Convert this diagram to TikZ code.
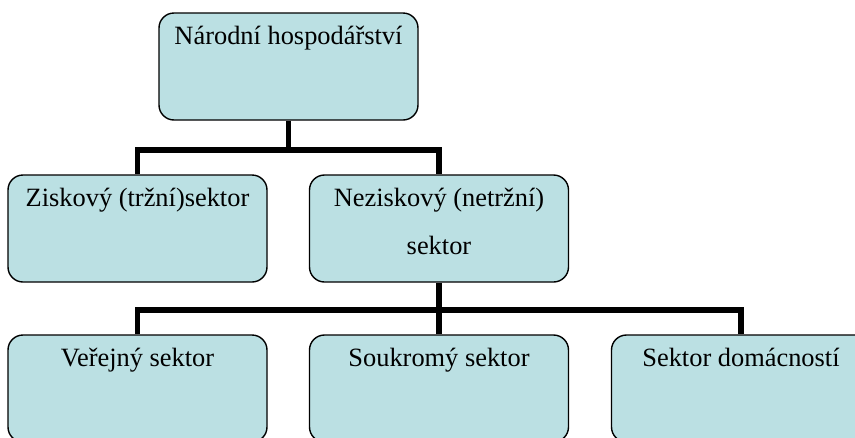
\documentclass[tikz,border=0pt]{standalone}
\usepackage{fontspec}
\setmainfont{Liberation Serif}
\usetikzlibrary{backgrounds,positioning}

\definecolor{boxfill}{RGB}{187,224,227}

\tikzset{
  sectorbox/.style={draw=black, line width=1.4pt, fill=boxfill, rounded corners=15pt,
    minimum width=259pt, minimum height=107pt, inner sep=0pt},
  boxtext/.style={anchor=base, inner sep=0pt, align=center,
    font=\fontsize{26.4}{48}\selectfont},
  conn/.style={draw=black, line width=5.5pt}
}

\begin{document}
\begin{tikzpicture}[x=1pt,y=-1pt]
  \useasboundingbox (0,0) rectangle (855,437);
  \clip (0,0) rectangle (855,437);
  % boxes
  \node[sectorbox] (narodni) at (288.5,66.5) {};
  \node[sectorbox] (zisk)    at (137.5,228.5) {};
  \node[sectorbox] (nezisk)  at (439,228.5)   {};
  \node[sectorbox] (verejny) at (137.5,388.5) {};
  \node[sectorbox] (soukrom) at (439,388.5)   {};
  \node[sectorbox] (domac)   at (741,388.5)   {};
  % texts (base = last line)
  \node[boxtext] (tnarodni) at ([yshift=-32pt]narodni.north) {Národní hospodářství};
  \node[boxtext] (tzisk)    at ([yshift=-32pt]zisk.north) {Ziskový (tržní)sektor};
  \node[boxtext] (tnezisk)  at ([yshift=-80pt]nezisk.north) {Neziskový (netržní)\\sektor};
  \node[boxtext] (tverejny) at ([yshift=-32pt]verejny.north) {Veřejný sektor};
  \node[boxtext] (tsoukrom) at ([yshift=-32pt]soukrom.north) {Soukromý sektor};
  \node[boxtext] (tdomac)   at ([yshift=-32pt]domac.north) {Sektor domácností};
  % connectors
  \coordinate (barA) at (0,150);
  \coordinate (barB) at (0,310);
  \begin{scope}[on background layer]
    \draw[conn] (narodni.south) -- (narodni.south |- barA);
    \draw[conn] (zisk.north) -- (zisk.north |- barA) -| (nezisk.north);
    \draw[conn] (nezisk.south) -- (nezisk.south |- barB);
    \draw[conn] (verejny.north) -- (verejny.north |- barB) -| (domac.north);
    \draw[conn] (soukrom.north) -- (soukrom.north |- barB);
  \end{scope}
\end{tikzpicture}
\end{document}
